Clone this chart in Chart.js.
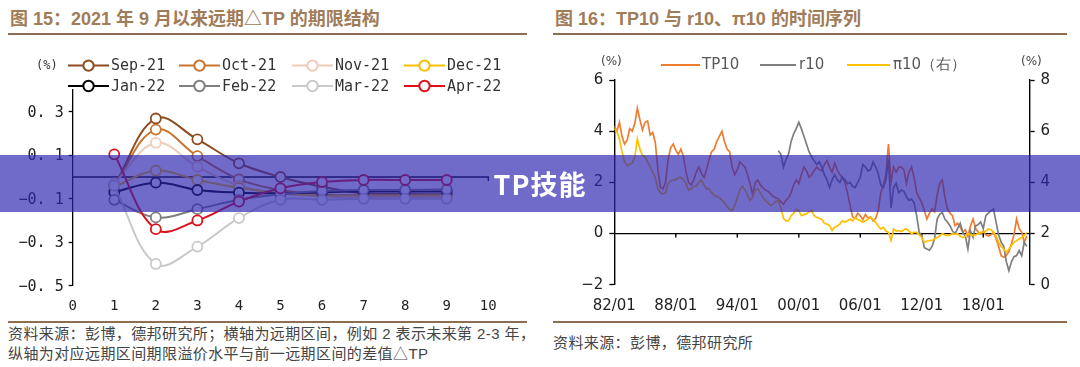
<!DOCTYPE html>
<html><head><meta charset="utf-8">
<script src="https://cdn.jsdelivr.net/npm/chart.js@4.4.1/dist/chart.umd.min.js"></script>
<style>
html,body{margin:0;padding:0;background:#fff;}
body{width:1080px;height:367px;position:relative;overflow:hidden;font-family:"Liberation Sans","Noto Sans CJK SC",sans-serif;}
.title{position:absolute;top:4px;font-size:18px;font-weight:bold;color:#A07C58;white-space:nowrap;}
.rule{position:absolute;height:2px;background:#8E6E50;}
.src{position:absolute;font-size:15px;line-height:20px;color:#444;white-space:nowrap;letter-spacing:0.4px;}
#banner{position:absolute;left:0;top:155px;width:1080px;height:57px;background:rgba(44,37,176,0.68);z-index:10;}
#bannerText{position:absolute;left:0;top:155px;width:1080px;height:57px;line-height:57px;text-align:center;color:#fff;font-size:27px;font-weight:bold;letter-spacing:1px;z-index:11;font-family:"Noto Sans CJK SC","Liberation Sans",sans-serif;}
canvas{position:absolute;}
</style></head>
<body>
<div class="title" style="left:10px;">图 15：2021 年 9 月以来远期△TP 的期限结构</div>
<div class="rule" style="left:8px;width:519px;top:33px;"></div>
<div class="title" style="left:555px;">图 16：TP10 与 r10、π10 的时间序列</div>
<div class="rule" style="left:553px;width:514px;top:33px;"></div>
<canvas id="c1" width="540" height="280" style="left:0;top:40px;width:540px;height:280px;"></canvas>
<canvas id="c2" width="535" height="280" style="left:545px;top:40px;width:535px;height:280px;"></canvas>
<div class="rule" style="left:8px;width:519px;top:321px;"></div>
<div class="rule" style="left:553px;width:514px;top:321px;"></div>
<div class="src" style="left:8px;top:324px;">资料来源：彭博，德邦研究所；横轴为远期区间，例如 2 表示未来第 2-3 年，<br>纵轴为对应远期区间期限溢价水平与前一远期区间的差值△TP</div>
<div class="src" style="left:553px;top:333px;">资料来源：彭博，德邦研究所</div>
<div id="banner"></div>
<div id="bannerText">TP技能</div>
<script>
// ---------- Figure 15 data ----------
const termX = [1, 2, 3, 4, 5, 6, 7, 8, 9];
const termTicks = [-0.5, -0.3, -0.1, 0.1, 0.3];
const monthNames = ['Sep-21', 'Oct-21', 'Nov-21', 'Dec-21', 'Jan-22', 'Feb-22', 'Mar-22', 'Apr-22'];
const sep21 = [-0.04, 0.269, 0.173, 0.063, 0.0, -0.045, -0.075, -0.078, -0.08];
const oct21 = [-0.035, 0.218, 0.096, -0.011, -0.06, -0.08, -0.085, -0.085, -0.085];
const nov21 = [-0.03, 0.157, 0.047, -0.04, -0.075, -0.09, -0.095, -0.095, -0.095];
const dec21 = [-0.045, 0.029, -0.014, -0.05, -0.075, -0.085, -0.085, -0.085, -0.085];
const jan22 = [-0.07, -0.026, -0.06, -0.072, -0.075, -0.07, -0.067, -0.067, -0.067];
const feb22 = [-0.105, -0.186, -0.148, -0.105, -0.08, -0.065, -0.06, -0.06, -0.058];
const mar22 = [-0.04, -0.40, -0.32, -0.189, -0.105, -0.105, -0.1, -0.1, -0.1];
const apr22 = [0.104, -0.24, -0.20, -0.113, -0.052, -0.023, -0.014, -0.014, -0.014];
const monthColors = ['#8E4C1F', '#C8752F', '#EFCBB8', '#F5C000', '#000000', '#7F7F7F', '#C9C9C9', '#E0101A'];

// ---------- Figure 16 data (quarterly, from 1982/01) ----------
const seriesStart = 1982;
const r10Start = 1998;
const yearTicks = [1982, 1988, 1994, 2000, 2006, 2012, 2018];
const tp10 = [
 4.2, 4.0, 4.35, 3.8,   3.5, 3.65, 4.1, 4.0,   4.3, 4.9, 4.45, 4.05,  4.35, 4.4, 3.85, 3.95,
 3.55, 2.5, 1.8, 1.75,  2.0, 2.9, 3.35, 3.5,   3.25, 3.1, 3.3, 3.0,   2.4, 2.0, 1.9, 2.1,
 2.4, 2.6, 2.35, 2.2,   2.5, 2.9, 3.2, 3.3,    3.6, 3.8, 4.0, 3.6,    3.3, 3.2, 2.6, 2.3,
 2.5, 2.8, 2.7, 2.6,    2.3, 1.95, 1.5, 2.0,   2.1, 1.9, 1.8, 1.7,    1.65, 1.55, 1.45, 1.4,
 1.35, 1.25, 1.15, 1.3, 1.4, 1.6, 1.9, 2.1,    1.95, 2.3, 2.6, 2.45,  2.2, 2.3, 2.45, 2.6,
 2.5, 2.45, 2.7, 2.85,  2.6, 2.4, 2.75, 2.5,   2.3, 2.2, 2.0, 1.6,    1.1, 0.65, 0.6, 0.8,
 0.7, 0.55, 0.75, 0.6,  0.65, 0.5, 0.6, 0.9,   1.6, 1.9, 2.3, 3.5,    2.0, 2.6, 2.4, 2.6,
 2.6, 2.5, 1.96, 2.4,   2.6, 2.2, 1.6, 1.4,    1.2, 0.9, 0.57, 0.8,   0.96, 0.85, 1.5, 1.96,
 2.1, 1.44, 0.96, 0.8,  0.7, 0.31, 0.4, 0.25,  0.05, 0.15, -0.1, 0.3, 0.57, 0.2, 0.05, 0.0,
 0.1, -0.05, -0.1, -0.05, 0.05, -0.2, -0.5, -0.86, -0.92, -0.85, -0.7, -0.4, -0.05, 0.57, 0.2, 0.05,
 -0.34, -0.1
];
const r10 = [
 3.24, 3.1, 2.6, 2.9,   3.1, 3.6, 3.9, 4.1,    4.35, 4.1, 3.8, 3.5,   3.2, 3.0, 2.85, 2.7,
 2.8, 2.6, 2.3, 2.1,    1.8, 2.1, 2.3, 2.1,    2.0, 2.2, 2.1, 1.95,   2.0, 1.85, 1.8, 2.0,
 2.2, 2.7, 2.6, 2.45,   2.5, 2.8, 2.6, 2.35,   1.9, 1.8, 2.1, 2.9,    1.0, 1.8, 1.96, 1.6,
 1.7, 1.65, 1.44, 1.3,  1.35, 1.2, 0.7, 0.05,  -0.1, -0.55, -0.6, -0.65, -0.5, -0.2, 0.57, 0.75,
 0.83, 0.57, 0.45, 0.31, 0.1, 0.0, 0.2, 0.4,   0.05, -0.1, -0.6, 0.1, -0.15, 0.3, 0.35, 0.45,
 0.2, 0.7, 0.8, 0.9,    0.96, 0.44, -0.05, -0.34, -0.5, -1.1, -1.45, -1.1, -0.9, -0.86, -0.66, -0.86,
 -0.34, -0.5
];
const pi10 = [
 6.1, 6.0, 5.7, 5.2,    4.8, 4.65, 4.7, 4.75,  5.0, 5.7, 5.3, 5.05,   5.0, 4.8, 4.6, 4.4,
 4.2, 3.75, 3.6, 3.55,  3.6, 3.96, 4.05, 4.1,  4.1, 4.2, 4.2, 4.1,    3.95, 3.7, 3.75, 3.85,
 3.85, 4.0, 4.1, 3.9,   3.75, 3.75, 3.6, 3.5,  3.45, 3.4, 3.3, 3.2,   3.05, 2.95, 2.9, 3.1,
 3.4, 3.7, 3.85, 3.7,   3.5, 3.3, 3.45, 3.7,   3.75, 3.6, 3.4, 3.3,   3.2, 3.1, 3.15, 3.25,
 3.3, 3.0, 2.6, 2.5,    2.5, 2.7, 2.8, 2.95,   2.9, 2.7, 2.75, 2.77,  2.85, 2.9, 2.7, 2.63,
 2.6, 2.55, 2.4, 2.37,  2.31, 2.12, 2.25, 2.3, 2.37, 2.5, 2.44, 2.5,  2.57, 2.5, 2.63, 2.55,
 2.5, 2.44, 2.5, 2.57,  2.63, 2.55, 2.44, 2.3, 2.18, 2.25, 2.1, 2.05, 1.73, 2.18, 2.1, 2.12,
 2.08, 2.15, 2.18, 2.1, 2.0, 2.05, 2.05, 1.95, 1.85, 1.66, 1.7, 1.73, 1.73, 1.8, 1.85, 1.9,
 2.0, 1.95, 1.92, 1.95, 2.0, 1.98, 2.0, 1.9,   1.85, 1.9, 2.0, 1.95,  1.92, 1.95, 2.0, 2.05,
 2.05, 2.1, 2.18, 2.15, 2.05, 1.9, 1.66, 1.5,  1.4, 1.28, 1.4, 1.53,  1.66, 1.72, 1.79, 1.85,
 1.92, 2.05
];
const tsNames = ['TP10', 'r10', 'π10（右）'];
const tsColors = ['#ED7D31', '#7F7F7F', '#FFC000'];

// ---------- helpers ----------
const toPts = (xs, ys) => ys.map((v, i) => ({x: xs[i], y: v}));
const quarterly = (start, ys) => ys.map((v, i) => ({x: start + i * 0.25, y: v}));
const fmtTerm = v => (v < 0 ? '\u2212' : '') + Math.abs(v).toFixed(1).replace('.', '. ');
const fmtSigned = v => (v < 0 ? '\u2212' : '') + Math.abs(v);

Chart.defaults.animation = false;
Chart.defaults.devicePixelRatio = 1;

// ---------- Figure 15 ----------
const termSeries = [sep21, oct21, nov21, dec21, jan22, feb22, mar22, apr22];
const termPlugin = {
  id: 'termPlugin',
  beforeDatasetsDraw(chart) {
    const ctx = chart.ctx, ys = chart.scales.y, y = ys.getPixelForValue(0), a = chart.chartArea;
    ctx.save();
    ctx.strokeStyle = '#000'; ctx.lineWidth = 1.3;
    ctx.beginPath(); ctx.moveTo(a.left, y); ctx.lineTo(a.right, y); ctx.lineTo(a.right, y + 4); ctx.stroke();
    // y tick labels
    ctx.fillStyle = '#222'; ctx.font = '15px "DejaVu Sans Mono"';
    ctx.textAlign = 'right'; ctx.textBaseline = 'middle';
    termTicks.forEach(v => ctx.fillText(fmtTerm(v), a.left - 9, ys.getPixelForValue(v) + 1));
    ctx.restore();
  },
  afterDraw(chart) {
    const ctx = chart.ctx;
    const cols = [68, 179, 292, 404], rows = [25.6, 46];
    ctx.save();
    chart.data.datasets.forEach((ds, i) => {
      const x0 = cols[i % 4], y = rows[Math.floor(i / 4)];
      ctx.strokeStyle = ds.borderColor; ctx.lineWidth = 2;
      ctx.beginPath(); ctx.moveTo(x0, y); ctx.lineTo(x0 + 41, y); ctx.stroke();
      ctx.beginPath(); ctx.arc(x0 + 20.5, y, 5.2, 0, Math.PI * 2); ctx.fillStyle = '#fff'; ctx.fill(); ctx.stroke();
      ctx.fillStyle = '#333'; ctx.font = '15px "DejaVu Sans Mono"'; ctx.textBaseline = 'middle';
      ctx.fillText(ds.label, x0 + 43, y + 1);
    });
    ctx.fillStyle = '#333'; ctx.font = '12px "DejaVu Sans Mono"'; ctx.textBaseline = 'middle';
    ctx.fillText('(%)', 36, 25.6);
    ctx.restore();
  }
};
new Chart(document.getElementById('c1'), {
  type: 'line',
  data: {
    datasets: termSeries.map((s, i) => ({
      label: monthNames[i], data: toPts(termX, s),
      borderColor: monthColors[i], backgroundColor: '#fff',
      borderWidth: 2, pointRadius: 5, pointBorderWidth: 1.8, pointBackgroundColor: '#fff',
      pointBorderColor: monthColors[i], tension: 0.38, order: 8 - i
    }))
  },
  options: {
    responsive: false,
    layout: {padding: {left: 0, right: 51.7, top: 50, bottom: 0}},
    plugins: {legend: {display: false}, tooltip: {enabled: false}},
    scales: {
      x: {type: 'linear', min: 0, max: 10,
        afterBuildTicks: s => { s.ticks = [0,1,2,3,4,5,6,7,8,9,10].map(v => ({value: v})); },
        afterFit: s => { s.height = 34.3; },
        grid: {display: false, drawTicks: false}, border: {display: false},
        ticks: {padding: 12, color: '#222', font: {family: 'DejaVu Sans Mono', size: 14}, maxRotation: 0}},
      y: {min: -0.5, max: 0.4,
        afterBuildTicks: s => { s.ticks = termTicks.map(v => ({value: v})); },
        afterFit: s => { s.width = 72.7; },
        grid: {drawOnChartArea: false, drawTicks: true, tickLength: 4, tickColor: '#000', tickWidth: 1.3},
        border: {display: true, color: '#000', width: 1.3},
        ticks: {display: false}}
    }
  },
  plugins: [termPlugin]
});

// ---------- Figure 16 ----------
const tsPlugin = {
  id: 'tsPlugin',
  beforeDatasetsDraw(chart) {
    const ctx = chart.ctx, y = chart.scales.y.getPixelForValue(0), a = chart.chartArea, xs = chart.scales.x;
    ctx.save();
    ctx.strokeStyle = '#000'; ctx.lineWidth = 1.4;
    ctx.beginPath(); ctx.moveTo(a.left, y); ctx.lineTo(a.right, y); ctx.stroke();
    yearTicks.slice(1).forEach(t => { const px = xs.getPixelForValue(t); ctx.beginPath(); ctx.moveTo(px, y); ctx.lineTo(px, y + 4); ctx.stroke(); });
    ctx.restore();
  },
  afterDraw(chart) {
    const ctx = chart.ctx;
    const items = [[116, 155, 157], [215, 251, 254], [302, 345, 348]];
    ctx.save();
    ctx.textBaseline = 'middle';
    items.forEach((it, i) => {
      ctx.strokeStyle = tsColors[i]; ctx.lineWidth = 2;
      ctx.beginPath(); ctx.moveTo(it[0], 25); ctx.lineTo(it[1], 25); ctx.stroke();
      ctx.fillStyle = '#595959'; ctx.font = '15px "DejaVu Sans"';
      ctx.fillText(tsNames[i], it[2], 25);
    });
    ctx.fillStyle = '#444'; ctx.font = '12px "DejaVu Sans"';
    ctx.fillText('(%)', 56, 22); ctx.fillText('(%)', 476, 22);
    ctx.restore();
  }
};
const lineDs = (label, data, color, axis, order) => ({
  label, data, borderColor: color, backgroundColor: color, borderWidth: 1.7,
  pointRadius: 0, tension: 0, yAxisID: axis, order
});
new Chart(document.getElementById('c2'), {
  type: 'line',
  data: {
    datasets: [
      lineDs(tsNames[0], quarterly(seriesStart, tp10), tsColors[0], 'y', 3),
      lineDs(tsNames[1], quarterly(r10Start, r10), tsColors[1], 'y', 2),
      lineDs(tsNames[2], quarterly(seriesStart, pi10), tsColors[2], 'y2', 1)
    ]
  },
  options: {
    responsive: false,
    layout: {padding: {left: 0, right: 0, top: 40, bottom: 0}},
    plugins: {legend: {display: false}, tooltip: {enabled: false}},
    scales: {
      x: {type: 'linear', min: 1982, max: 2022.52,
        afterBuildTicks: s => { s.ticks = yearTicks.map(v => ({value: v})); },
        afterFit: s => { s.height = 35.2; },
        grid: {display: false, drawTicks: false}, border: {display: false},
        ticks: {padding: 12, color: '#222', font: {family: 'DejaVu Sans', size: 15}, maxRotation: 0,
          callback: v => String(v % 100).padStart(2, '0') + '/01'}},
      y: {position: 'left', min: -2, max: 6,
        afterBuildTicks: s => { s.ticks = [-2, 0, 2, 4, 6].map(v => ({value: v})); },
        afterFit: s => { s.width = 69.3; },
        grid: {drawOnChartArea: false, tickLength: 5, tickColor: '#000', tickWidth: 1.3},
        border: {display: true, color: '#000', width: 1.4},
        ticks: {padding: 6, color: '#222', font: {family: 'DejaVu Sans', size: 15}, callback: v => fmtSigned(v)}},
      y2: {position: 'right', min: 0, max: 8,
        afterBuildTicks: s => { s.ticks = [0, 2, 4, 6, 8].map(v => ({value: v})); },
        afterFit: s => { s.width = 50.4; },
        grid: {drawOnChartArea: false, tickLength: 5, tickColor: '#000', tickWidth: 1.3},
        border: {display: true, color: '#000', width: 1.4},
        ticks: {padding: 6, color: '#222', font: {family: 'DejaVu Sans', size: 15}}}
    }
  },
  plugins: [tsPlugin]
});
</script>
</body></html>
